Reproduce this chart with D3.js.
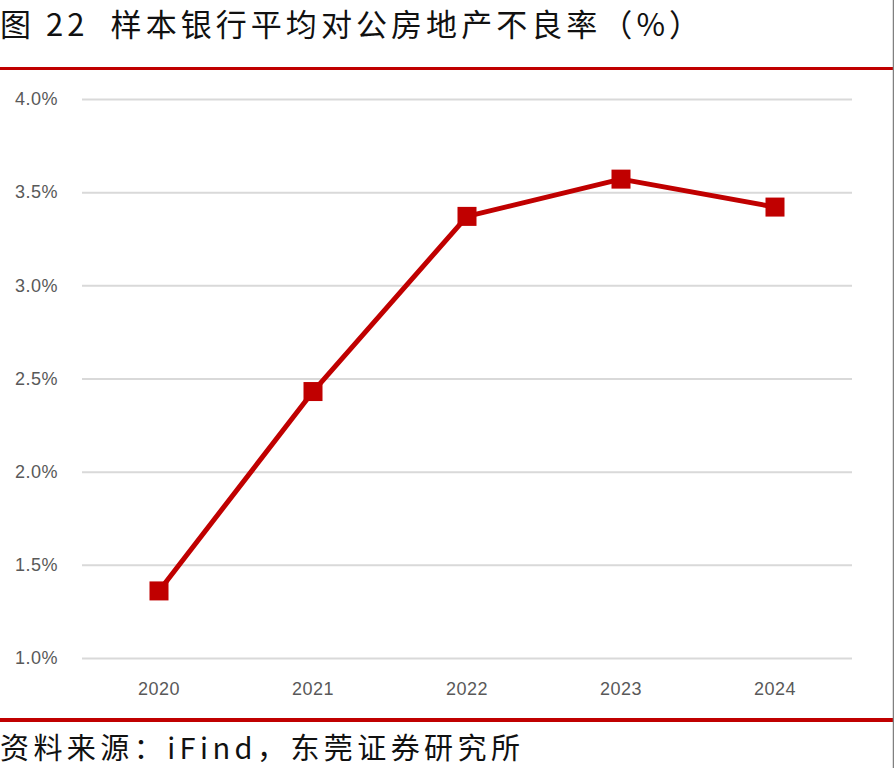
<!DOCTYPE html>
<html>
<head>
<meta charset="utf-8">
<script src="https://cdn.jsdelivr.net/npm/d3@7"></script>
<style>
  body { margin: 0; background: #fff; }
  svg { display: block; }
</style>
</head>
<body>
<svg id="chart" width="894" height="768"></svg>
<script>
// data
const years = ["2020", "2021", "2022", "2023", "2024"];
const nplRate = [1.36, 2.43, 3.37, 3.57, 3.42];
const yTicks = [1.0, 1.5, 2.0, 2.5, 3.0, 3.5, 4.0];

const titleText = "图 22  样本银行平均对公房地产不良率（%）";
const sourceText = "资料来源：iFind，东莞证券研究所";

let svg = d3.select("#chart");
const W = 894, H = 768;
const red = "#c00000";
const cjk = "'Noto Sans CJK SC', sans-serif";
const axisFont = "'Liberation Sans', Arial, sans-serif";

// plot area
let x = d3.scaleBand().domain(years).range([82, 852]);
let y = d3.scaleLinear().domain([1.0, 4.0]).range([658, 99]);

// title
svg.append("text")
   .attr("x", 0)
   .attr("y", 36)
   .attr("font-family", cjk)
   .attr("font-size", 31)
   .attr("fill", "#111")
   .attr("textLength", 700)
   .attr("lengthAdjust", "spacing")
   .style("white-space", "pre")
   .text(titleText);

// red separator lines
svg.append("rect").attr("x", 0).attr("y", 67).attr("width", 893).attr("height", 3).attr("fill", red);
svg.append("rect").attr("x", 0).attr("y", 718).attr("width", 893).attr("height", 4).attr("fill", red);
// thin frame line at right edge
svg.append("line")
   .attr("x1", 893.5).attr("x2", 893.5).attr("y1", 0).attr("y2", H)
   .attr("stroke", "#808080").attr("stroke-width", 1.5);

// gridlines + y axis
let yAxis = d3.axisLeft(y)
    .tickValues(yTicks)
    .tickSize(-(852 - 82))
    .tickPadding(24)
    .tickFormat(d => d3.format(".1f")(d) + "%");
let gy = svg.append("g").attr("transform", "translate(82,0)").call(yAxis);
gy.select(".domain").remove();
gy.selectAll(".tick line").attr("stroke", "#d9d9d9").attr("stroke-width", 2);
gy.selectAll(".tick text")
  .attr("font-family", axisFont)
  .attr("font-size", 18)
  .attr("letter-spacing", 0.5)
  .attr("fill", "#595959");

// x axis labels
let xAxis = d3.axisBottom(x).tickSize(0).tickPadding(24);
let gx = svg.append("g").attr("transform", "translate(0,658)").call(xAxis);
gx.select(".domain").remove();
gx.selectAll(".tick text")
  .attr("font-family", axisFont)
  .attr("font-size", 18)
  .attr("letter-spacing", 0.5)
  .attr("fill", "#595959");

// line
let pts = years.map((yr, i) => ({ year: yr, value: nplRate[i] }));
let line = d3.line()
    .x(d => x(d.year) + x.bandwidth() / 2)
    .y(d => y(d.value));
svg.append("path")
   .datum(pts)
   .attr("d", line)
   .attr("fill", "none")
   .attr("stroke", red)
   .attr("stroke-width", 5)
   .attr("stroke-linejoin", "round");

// square markers
const ms = 19;
svg.selectAll("rect.marker")
   .data(pts)
   .enter()
   .append("rect")
   .attr("class", "marker")
   .attr("x", d => x(d.year) + x.bandwidth() / 2 - ms / 2)
   .attr("y", d => y(d.value) - ms / 2)
   .attr("width", ms)
   .attr("height", ms)
   .attr("fill", red);

// source note
svg.append("text")
   .attr("x", 0)
   .attr("y", 759)
   .attr("font-family", cjk)
   .attr("font-size", 29)
   .attr("fill", "#111")
   .attr("textLength", 520)
   .attr("lengthAdjust", "spacing")
   .text(sourceText);
</script>
</body>
</html>
